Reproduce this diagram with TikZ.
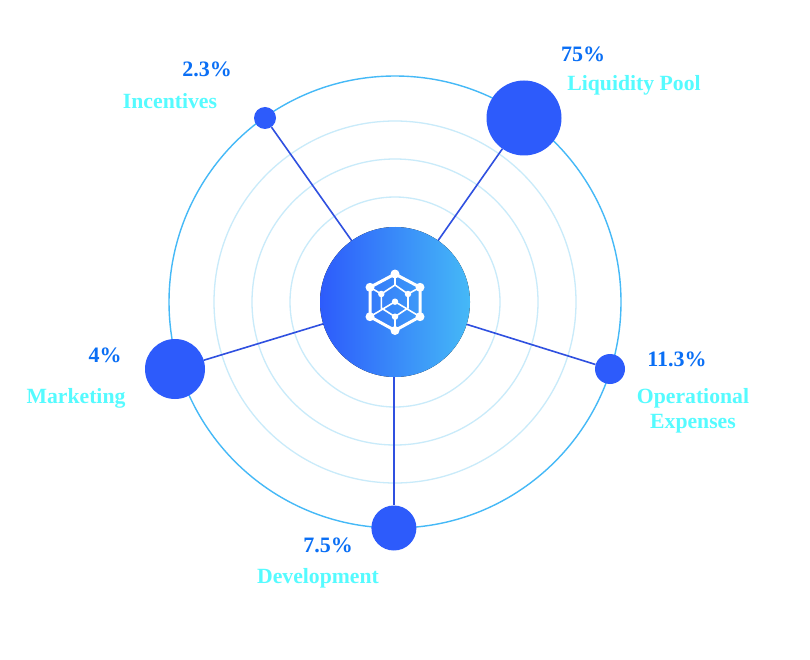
\documentclass[tikz,border=0pt]{standalone}
\usepackage{fontspec}
\setmainfont{Liberation Serif}
\definecolor{ringout}{HTML}{45B9F7}
\definecolor{ringin}{HTML}{C9EBFA}
\definecolor{sat}{HTML}{2D5BFB}
\definecolor{spoke}{HTML}{2F50E0}
\definecolor{pct}{HTML}{0A6FF5}
\definecolor{lab}{HTML}{55FBFF}
\tikzset{
  x=1pt,y=-1pt,
  ringa/.style={draw=ringout,line width=1.4pt,fill=none},
  ringb/.style={draw=ringin,line width=1.3pt,fill=none},
  satn/.style={circle,fill=sat,inner sep=0pt,minimum size=#1},
  spokeln/.style={draw=spoke,line width=1.6pt},
  pctl/.style={text=pct,font=\fontsize{22}{26}\selectfont\bfseries,inner sep=0pt,anchor=center},
  labl/.style={text=lab,font=\fontsize{21.7}{25.5}\selectfont\bfseries,inner sep=0pt,anchor=center,align=center},
  icn/.style={draw=white,line width=3pt,line join=round},
  icf/.style={draw=white,line width=1.6pt},
  bigd/.style={circle,fill=white,inner sep=0pt,minimum size=9pt},
  smd/.style={circle,fill=white,inner sep=0pt,minimum size=6.5pt},
}
\begin{document}
\begin{tikzpicture}
\useasboundingbox (0,0) rectangle (810,660);
\fill[white] (0,0) rectangle (810,660);
\coordinate (o) at (395,302);
\draw[ringb] (o) circle[radius=105];
\draw[ringb] (o) circle[radius=143];
\draw[ringb] (o) circle[radius=181];
\draw[ringa] (o) circle[radius=226];

\node[satn=22pt] (inc) at (265,118) {};
\node[satn=75pt] (liq) at (524,118) {};
\node[satn=30pt] (opx) at (610,369) {};
\node[satn=45pt] (dev) at (393.9,528) {};
\node[satn=60pt] (mkt) at (175,369) {};

\coordinate (hub) at (o);
\coordinate (hubb) at (393.9,302);
\path[spokeln] (hub) -- (inc);
\path[spokeln] (hub) -- (liq);
\path[spokeln] (hub) -- (opx);
\path[spokeln] (hubb) -- (dev);
\path[spokeln] (hub) -- (mkt);
\fill[left color=sat,right color=ringout,shading angle=90] (o) circle[radius=75];

% icon
\node[bigd] (h1) at (395,274) {};
\node[bigd] (h2) at (420,287.3) {};
\node[bigd] (h3) at (420,316.7) {};
\node[bigd] (h4) at (395,330.5) {};
\node[bigd] (h5) at (370,316.7) {};
\node[bigd] (h6) at (370,287.3) {};
\node[smd] (c) at (395,301.7) {};
\node[smd] (il) at (381.3,294) {};
\node[smd] (ir) at (408,294) {};
\node[smd] (ib) at (395,316.7) {};
\coordinate (it) at (395,285);
\coordinate (el) at (381.3,308);
\coordinate (er) at (408,308);
\draw[icn] (h1.center)--(h2.center)--(h3.center)--(h4.center)--(h5.center)--(h6.center)--cycle;
\draw[icf] (h1.center)--(it);
\draw[icf] (il.center)--(it)--(ir.center);
\draw[icf] (il.center)--(el)--(ib.center)--(er)--(ir.center);
\draw[icf] (h5.center)--(c.center)--(h3.center);
\draw[icf] (ib.center)--(h4.center);
\draw[icf] (h6.center)--(il.center);
\draw[icf] (h2.center)--(ir.center);

\node[pctl] (p1) at (207,69) {2.3\%};
\node[labl] (l1) at (170,101) {Incentives};
\node[pctl] (p2) at (583,54) {75\%};
\node[labl] (l2) at (634,85.5) {Liquidity Pool};
\node[pctl] (p3) at (677,359) {11.3\%};
\node[labl] (l3) at (693,411) {Operational\\Expenses};
\node[pctl] (p4) at (328,545) {7.5\%};
\node[labl] (l4) at (318,578) {Development};
\node[pctl] (p5) at (105,355) {4\%};
\node[labl] (l5) at (76,398) {Marketing};
\end{tikzpicture}
\end{document}
